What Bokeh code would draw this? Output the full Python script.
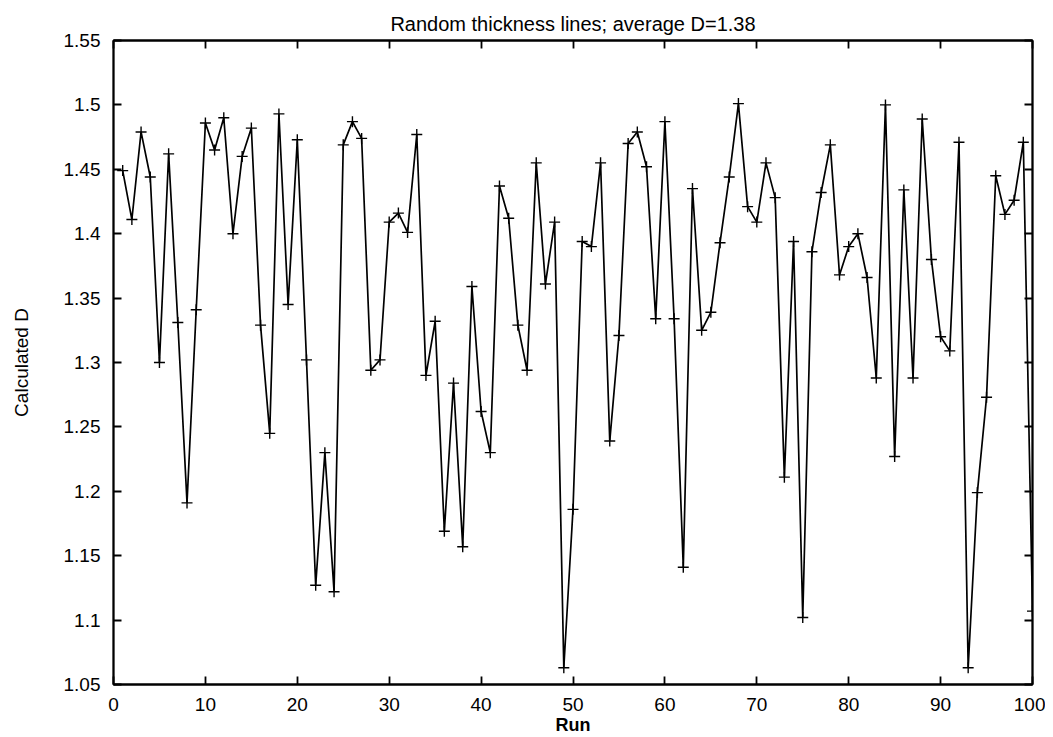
from bokeh.plotting import figure
from bokeh.models import Range1d, LinearAxis, FixedTicker
from bokeh.embed import file_html
from bokeh.resources import INLINE

runs = list(range(1, 101))
d_values = [
    1.449, 1.411, 1.479, 1.444, 1.300, 1.462, 1.331, 1.191, 1.341, 1.486,
    1.465, 1.490, 1.400, 1.460, 1.482, 1.329, 1.245, 1.493, 1.345, 1.473,
    1.302, 1.127, 1.230, 1.122, 1.469, 1.487, 1.474, 1.294, 1.302, 1.409,
    1.416, 1.401, 1.477, 1.290, 1.332, 1.169, 1.284, 1.157, 1.359, 1.262,
    1.230, 1.437, 1.412, 1.329, 1.294, 1.455, 1.361, 1.409, 1.063, 1.186,
    1.394, 1.390, 1.455, 1.239, 1.321, 1.470, 1.479, 1.452, 1.334, 1.487,
    1.334, 1.141, 1.435, 1.325, 1.339, 1.393, 1.444, 1.501, 1.421, 1.409,
    1.455, 1.428, 1.211, 1.394, 1.102, 1.386, 1.432, 1.469, 1.368, 1.390,
    1.400, 1.366, 1.288, 1.500, 1.227, 1.434, 1.288, 1.489, 1.380, 1.320,
    1.309, 1.471, 1.063, 1.199, 1.273, 1.445, 1.415, 1.426, 1.471, 1.107,
]

x_ticks = [0, 10, 20, 30, 40, 50, 60, 70, 80, 90, 100]
y_ticks = [1.05, 1.1, 1.15, 1.2, 1.25, 1.3, 1.35, 1.4, 1.45, 1.5, 1.55]
y_tick_labels = ["1.05", "1.1", "1.15", "1.2", "1.25", "1.3", "1.35", "1.4", "1.45", "1.5", "1.55"]

title_text = "Random thickness lines; average D=1.38"
x_label = "Run"
y_label = "Calculated D"

FONT = "Liberation Sans"

W, H = 1045, 737
p = figure(width=W, height=H, output_backend="svg", toolbar_location=None,
           x_range=Range1d(0, 100), y_range=Range1d(1.05, 1.55),
           min_border_left=113, min_border_right=W - 1032,
           min_border_top=40, min_border_bottom=H - 686,
           title=title_text)

p.title.align = "center"
p.title.text_font = FONT
p.title.text_font_size = "20px"
p.title.text_font_style = "normal"
p.title.text_color = "black"
p.title.standoff = 12

p.grid.visible = False
p.outline_line_color = "black"
p.outline_line_width = 1.8
p.background_fill_color = "white"
p.border_fill_color = "white"

p.line(runs, d_values, line_color="black", line_width=1.7)
p.scatter(runs, d_values, marker="cross", size=11, line_color="black", line_width=1.4)

ylab_map = {t: l for t, l in zip(y_ticks, y_tick_labels)}

for ax in [p.xaxis[0], p.yaxis[0]]:
    ax.major_tick_in = 8
    ax.major_tick_out = 0
    ax.minor_tick_line_color = None
    ax.axis_line_color = "black"
    ax.axis_line_width = 1.8
    ax.major_tick_line_width = 1.8
    ax.major_label_text_font = FONT
    ax.major_label_text_font_size = "19px"
    ax.major_label_text_color = "black"
    ax.axis_label_text_font = FONT
    ax.axis_label_text_font_style = "normal"
    ax.axis_label_text_color = "black"

p.xaxis[0].ticker = FixedTicker(ticks=x_ticks)
p.yaxis[0].ticker = FixedTicker(ticks=y_ticks)
p.yaxis[0].major_label_overrides = ylab_map
p.xaxis[0].axis_label = x_label
p.xaxis[0].axis_label_text_font_size = "18px"
p.xaxis[0].axis_label_text_font_style = "bold"
p.xaxis[0].major_label_standoff = 13
p.xaxis[0].axis_label_standoff = 1
p.yaxis[0].axis_label = y_label
p.yaxis[0].axis_label_text_font_size = "19px"
p.yaxis[0].major_label_standoff = 13
p.yaxis[0].axis_label_standoff = 29

top = LinearAxis(ticker=FixedTicker(ticks=x_ticks))
right = LinearAxis(ticker=FixedTicker(ticks=y_ticks))
for ax in [top, right]:
    ax.major_tick_in = 8
    ax.major_tick_out = 0
    ax.minor_tick_line_color = None
    ax.axis_line_color = "black"
    ax.axis_line_width = 1.8
    ax.major_tick_line_width = 1.8
    ax.major_label_text_color = None
    ax.major_label_standoff = 0
p.add_layout(top, "above")
p.add_layout(right, "right")

open("out.html", "w").write(file_html(p, INLINE))
